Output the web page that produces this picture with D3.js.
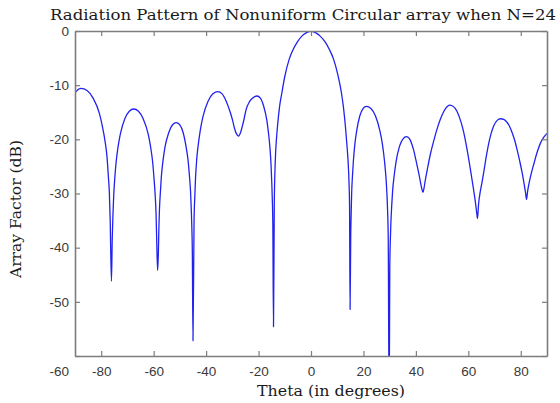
<!DOCTYPE html>
<html>
<head>
<meta charset="utf-8">
<script src="https://cdn.jsdelivr.net/npm/d3@7"></script>
<style>
  html, body { margin: 0; padding: 0; background: #fff; }
  svg { display: block; }
</style>
</head>
<body>
<svg id="chart" width="560" height="403"></svg>
<script>
// ---- data ----
const titleText = "Radiation Pattern of Nonuniform Circular array when N=24";
const xLabelText = "Theta (in degrees)";
const yLabelText = "Array Factor (dB)";

const xTicks = [-80, -60, -40, -20, 0, 20, 40, 60, 80];
const yTicks = [0, -10, -20, -30, -40, -50, -60];
const xDomain = [-90, 90];
const yDomain = [-60, 0];

// theta (deg) and array factor (dB), sampled along the plotted curve
const thetaDeg = [
  -90, -89, -88.5, -87.7, -85.4, -83.1, -80.7, -79.6, -78.4, -77.8, -77.3, -76.9, -76.6, -76.1,
  -75.8, -75.5, -75.25, -74.8, -74.4, -73.55, -72.7, -71.0, -69.3, -67.6, -65.8, -64.0, -62.1, -61.2, -60.3, -59.9, -59.4, -59.1, -58.85, -58.5,
  -58.2, -58.0, -57.8, -57.4, -57.1, -56.4, -55.7, -54.2, -52.8, -51.4, -50.1, -48.8, -47.6, -46.9, -46.3, -45.95, -45.65, -45.45, -45.25, -45.0,
  -44.6, -44.3, -44.05, -43.6, -43.1, -42.15, -41.2, -39.3, -37.4, -35.5, -33.9, -32.3, -30.8, -29.9, -29.2, -28.5, -27.6,
  -26.9, -26.2, -25.5, -24.8, -23.4, -22.0, -20.6, -19.3, -18.1, -16.8, -16.2, -15.55, -15.25, -14.95, -14.75, -14.55, -14.3,
  -14.0, -13.6, -13.1, -12.7, -12.0, -11.1, -10.0, -8.3, -7.0, -5.3, -3.4, -2.0, -1.0, 0, 1.0, 2.0, 3.4, 5.5, 7.0, 8.6, 10.2, 11.6, 12.4, 13.1, 13.7, 14.1, 14.5, 14.7, 14.9,
  15.15, 15.35, 15.5, 15.85, 16.15, 16.75, 17.4, 18.6, 19.9, 21.1, 22.85, 24.6, 26.3, 27.2, 28.05, 28.5, 28.95, 29.2, 29.45, 29.8,
  30.05, 30.25, 30.45, 30.8, 31.1, 31.8, 32.45, 33.75, 35.1, 36.4, 37.0, 37.7, 38.4, 39.2, 40.0, 40.8, 41.4, 41.9, 42.3, 42.7,
  43.1, 43.5, 44.5, 45.5, 46.8, 48.0, 49.4, 50.5, 51.5, 52.2, 52.9, 53.8, 55.0, 56.0, 57.0, 58.0, 59.0, 60.0, 61.0, 62.0, 62.8, 63.2, 63.5,
  63.9, 64.5, 65.2, 65.9, 66.8, 67.8, 68.7, 69.7, 71.0, 72.3, 73.5, 74.5, 75.5, 76.5, 77.5, 78.5, 79.5, 80.5, 81.3, 81.8, 82.2,
  82.6, 83.0, 84.0, 85.0, 86.3, 87.5, 88.8, 90.0
];
const arrayFactorDb = [
  -11.4, -10.9, -10.7, -10.6, -11.0, -12.4, -15.2, -17.5, -20.8, -23.2, -26.7, -29.8, -34.6, -46.2,
  -38.4, -33.6, -30.5, -27.0, -24.6, -21.3, -19.0, -16.2, -14.8, -14.4, -14.8, -16.2, -19.0, -21.3, -24.6, -27.0, -30.5, -33.6, -38.4, -44.2,
  -40.9, -36.1, -33.0, -29.5, -27.1, -23.8, -21.5, -18.7, -17.3, -16.9, -17.3, -18.7, -21.5, -23.8, -27.1, -29.5, -33.0, -36.1, -40.9, -57.2,
  -35.2, -30.4, -27.3, -23.8, -21.4, -18.1, -15.8, -13.0, -11.6, -11.2, -11.6, -13.0, -15.0, -16.5, -17.9, -18.9, -19.4,
  -18.8, -17.6, -16.2, -14.6, -13.0, -12.3, -12.0, -12.4, -13.8, -16.6, -18.9, -22.2, -24.6, -28.1, -31.2, -36.0, -54.6,
  -32.0, -23.7, -19.5, -17.2, -14.0, -11.4, -8.4, -5.2, -3.6, -2.1, -0.9, -0.4, -0.15, 0, -0.15, -0.4, -0.9, -2.1, -3.4, -5.2, -8.0, -11.4, -14.2, -17.5, -21.0, -23.7, -28.0, -32.0, -51.4,
  -37.9, -33.1, -30.0, -26.5, -24.1, -20.8, -18.5, -15.7, -14.3, -13.9, -14.3, -15.7, -18.5, -20.8, -24.1, -26.5, -30.0, -33.1, -37.9, -70,
  -43.5, -38.7, -35.6, -32.1, -29.7, -26.4, -24.1, -21.3, -19.9, -19.5, -19.6, -20.0, -20.8, -22.1, -23.8, -25.6, -27.0, -28.3, -29.2, -29.8,
  -29.0, -27.8, -25.2, -22.8, -20.3, -18.2, -16.2, -15.0, -14.2, -13.85, -13.7, -13.8, -14.3, -15.2, -16.5, -18.2, -20.5, -23.2, -26.2, -29.3, -32.0, -33.6, -34.6,
  -32.0, -29.8, -28.0, -26.0, -23.3, -20.7, -18.9, -17.5, -16.5, -16.2, -16.3, -16.7, -17.4, -18.5, -19.9, -21.7, -23.8, -26.1, -28.3, -29.8, -31.1,
  -29.6, -28.5, -26.3, -24.5, -22.3, -20.7, -19.6, -18.9
];

// ---- layout ----
const plot = { left: 75, right: 547, top: 31, bottom: 356 };
const axisColor = "#7d7d7d";
const labelColor = "#3a3a3a";

const svg = d3.select("#chart");
const x = d3.scaleLinear().domain(xDomain).range([plot.left, plot.right]);
const y = d3.scaleLinear().domain(yDomain).range([plot.bottom, plot.top]);

const points = thetaDeg.map((t, i) => [t, arrayFactorDb[i]]);

svg.append("defs").append("clipPath").attr("id", "clip")
  .append("rect")
  .attr("x", plot.left).attr("y", plot.top)
  .attr("width", plot.right - plot.left).attr("height", plot.bottom - plot.top);

// curve
const line = d3.line()
  .x(d => x(d[0]))
  .y(d => y(d[1]))
  .curve(d3.curveMonotoneX);

svg.append("path")
  .datum(points)
  .attr("clip-path", "url(#clip)")
  .attr("d", line)
  .attr("fill", "none")
  .attr("stroke", "#2222ee")
  .attr("stroke-width", 1.3)
  .attr("stroke-linejoin", "round");

// axes
const plainNum = d => String(d);
function styleAxis(g) {
  g.select(".domain").attr("stroke", axisColor).attr("stroke-width", 1.6);
  g.selectAll(".tick line").attr("stroke", axisColor).attr("stroke-width", 1.2);
  g.selectAll(".tick text")
    .attr("fill", labelColor)
    .attr("font-family", "'Liberation Sans', Arial, sans-serif")
    .attr("font-size", 13.5);
}

const gBottom = svg.append("g")
  .attr("transform", `translate(0,${plot.bottom})`)
  .call(d3.axisBottom(x).tickValues(xTicks).tickSizeInner(-5).tickSizeOuter(0).tickPadding(10)
    .tickFormat(plainNum));
styleAxis(gBottom);

const gTop = svg.append("g")
  .attr("transform", `translate(0,${plot.top})`)
  .call(d3.axisTop(x).tickValues(xTicks).tickSizeInner(-5).tickSizeOuter(0).tickFormat(""));
styleAxis(gTop);

const gLeft = svg.append("g")
  .attr("transform", `translate(${plot.left},0)`)
  .call(d3.axisLeft(y).tickValues(yTicks).tickSizeInner(-5).tickSizeOuter(0).tickPadding(6)
    .tickFormat(plainNum));
styleAxis(gLeft);
gLeft.selectAll(".tick")
  .filter(d => d === -60)
  .select("text")
  .attr("transform", "translate(0,15)");

const gRight = svg.append("g")
  .attr("transform", `translate(${plot.right},0)`)
  .call(d3.axisRight(y).tickValues(yTicks).tickSizeInner(-5).tickSizeOuter(0).tickFormat(""));
styleAxis(gRight);

// texts
const serif = "'DejaVu Serif', 'Liberation Serif', serif";
svg.append("text")
  .attr("x", 50).attr("y", 20)
  .attr("font-family", serif).attr("font-size", 15)
  .attr("fill", "#1a1a1a")
  .attr("textLength", 506).attr("lengthAdjust", "spacingAndGlyphs")
  .text(titleText);

svg.append("text")
  .attr("x", 257).attr("y", 396)
  .attr("font-family", serif).attr("font-size", 15)
  .attr("fill", "#1a1a1a")
  .attr("textLength", 148).attr("lengthAdjust", "spacingAndGlyphs")
  .text(xLabelText);

svg.append("text")
  .attr("transform", "translate(21,209) rotate(-90)")
  .attr("text-anchor", "middle")
  .attr("font-family", serif).attr("font-size", 15)
  .attr("fill", "#1a1a1a")
  .attr("textLength", 138).attr("lengthAdjust", "spacingAndGlyphs")
  .text(yLabelText);
</script>
</body>
</html>
